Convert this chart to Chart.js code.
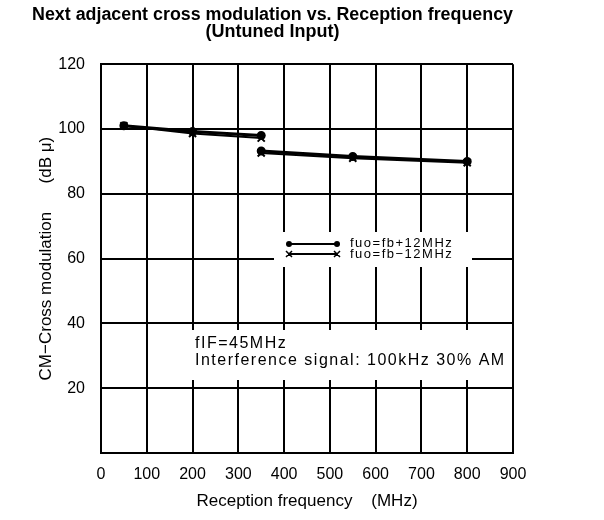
<!DOCTYPE html>
<html>
<head>
<meta charset="utf-8">
<script src="https://cdn.jsdelivr.net/npm/chart.js@4"></script>
<style>
  body { margin: 0; background: #fff; }
  #wrap { width: 604px; height: 520px; }
</style>
</head>
<body>
<div id="wrap"><canvas id="chartCanvas"></canvas></div>
<script>
// valeurs
const freqHigh = [50, 200, 350];      // segment haut (MHz)
const freqLow = [350, 550, 800];      // segment bas (MHz)
const plusHigh = [101, 99.2, 98];     // fuo=fb+12MHz
const plusLow = [93.2, 91.5, 90];
const minusHigh = [101, 98.6, 97.2];  // fuo=fb-12MHz
const minusLow = [92.6, 91, 89.6];
const xTicks = [0, 100, 200, 300, 400, 500, 600, 700, 800, 900];
const yTicks = [0, 20, 40, 60, 80, 100, 120];

function buildPoints(xa, ya, xb, yb) {
  const pts = [];
  for (let i = 0; i < xa.length; i++) pts.push({ x: xa[i], y: ya[i] });
  pts.push({ x: xa[xa.length - 1], y: null }); // coupure de la ligne
  for (let i = 0; i < xb.length; i++) pts.push({ x: xb[i], y: yb[i] });
  return pts;
}

const FONT = "'Liberation Sans', Arial, sans-serif";

// légende + annotation dessinées dans la zone du graphe
const notes = {
  id: "notes",
  afterDatasetsDraw(chart) {
    const c = chart.ctx;
    c.save();
    c.fillStyle = "#fff";
    c.fillRect(274, 232, 198, 35);
    c.fillRect(190, 330, 321, 50);

    c.strokeStyle = "#000";
    c.fillStyle = "#000";
    c.lineWidth = 2;
    c.beginPath(); c.moveTo(288, 244); c.lineTo(338, 244); c.stroke();
    c.beginPath(); c.arc(289, 244, 3, 0, Math.PI * 2); c.fill();
    c.beginPath(); c.arc(337, 244, 3, 0, Math.PI * 2); c.fill();
    c.beginPath(); c.moveTo(288, 254); c.lineTo(338, 254); c.stroke();
    c.lineWidth = 1.5;
    c.beginPath();
    c.moveTo(286, 251); c.lineTo(292, 257); c.moveTo(292, 251); c.lineTo(286, 257);
    c.moveTo(334, 251); c.lineTo(340, 257); c.moveTo(340, 251); c.lineTo(334, 257);
    c.stroke();

    c.textBaseline = "middle";
    c.font = "13px " + FONT;
    c.letterSpacing = "1.5px";
    c.fillText("fuo=fb+12MHz", 350, 243);
    c.fillText("fuo=fb\u221212MHz", 350, 254);

    c.font = "16px " + FONT;
    c.letterSpacing = "1.5px";
    c.fillText("fIF=45MHz", 195, 344);
    c.fillText("Interference signal: 100kHz 30% AM", 195, 361);
    c.restore();
  }
};

const ctx = document.getElementById("chartCanvas").getContext("2d");
new Chart(ctx, {
  type: "line",
  data: {
    datasets: [
      {
        label: "fuo=fb+12MHz",
        data: buildPoints(freqHigh, plusHigh, freqLow, plusLow),
        borderColor: "#000",
        backgroundColor: "#000",
        borderWidth: 3,
        pointStyle: "circle",
        pointRadius: 3,
        spanGaps: false,
      },
      {
        label: "fuo=fb\u221212MHz",
        data: buildPoints(freqHigh, minusHigh, freqLow, minusLow),
        borderColor: "#000",
        backgroundColor: "#000",
        borderWidth: 2,
        pointStyle: "crossRot",
        pointRadius: 5,
        pointBorderWidth: 2,
        spanGaps: false,
      },
    ],
  },
  options: {
    responsive: true,
    maintainAspectRatio: false,
    animation: false,
    layout: { padding: { left: 32, right: 91, top: 2, bottom: 4 } },
    plugins: {
      legend: { display: false },
      tooltip: { enabled: false },
      title: {
        display: true,
        text: ["Next adjacent cross modulation vs. Reception frequency", "(Untuned Input)"],
        color: "#000",
        font: { family: FONT, size: 18, weight: "bold", lineHeight: 0.95 },
        padding: { top: 4, bottom: 24 },
      },
    },
    scales: {
      x: {
        type: "linear",
        min: 0,
        max: 900,
        afterBuildTicks(s) { s.ticks = xTicks.map(v => ({ value: v })); },
        afterFit(s) { s.height = 63; },
        grid: { color: "#000", lineWidth: 2, drawTicks: false },
        border: { color: "#000", width: 2 },
        ticks: { color: "#000", padding: 12, font: { family: FONT, size: 16 } },
        title: {
          display: true,
          text: "Reception frequency    (MHz)",
          color: "#000",
          font: { family: FONT, size: 17 },
          padding: { top: 4 },
        },
      },
      y: {
        min: 0,
        max: 120,
        afterBuildTicks(s) { s.ticks = yTicks.map(v => ({ value: v })); },
        afterFit(s) { s.width = 69; },
        grid: { color: "#000", lineWidth: 2, drawTicks: false },
        border: { color: "#000", width: 2 },
        ticks: {
          color: "#000",
          padding: 16,
          font: { family: FONT, size: 16 },
          callback: v => (v === 0 ? "" : v),
        },
        title: {
          display: true,
          text: "CM\u2212Cross modulation      (dB \u03bc)",
          color: "#000",
          font: { family: FONT, size: 17 },
          padding: { top: 4, bottom: 4 },
        },
      },
    },
  },
  plugins: [notes],
});
</script>
</body>
</html>
